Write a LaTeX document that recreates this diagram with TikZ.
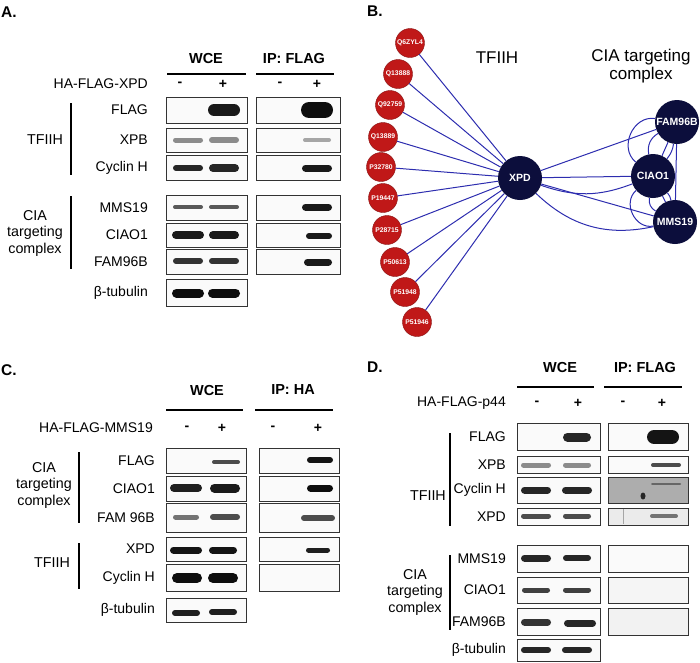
\documentclass[tikz,border=0pt]{standalone}
\usepackage{fontspec}
\setmainfont{Liberation Sans}

\definecolor{hubnavy}{RGB}{12,14,60}
\definecolor{protred}{RGB}{192,24,24}
\definecolor{linkblue}{RGB}{45,45,175}

\tikzset{
  blot/.style={draw=black!80,line width=0.8pt,fill=black!2},
  lbl/.style={anchor=east,inner sep=1pt,font=\fontsize{14}{16.5}\selectfont},
  grp/.style={align=center,inner sep=1pt,font=\fontsize{14.3}{16.5}\selectfont},
  hdr/.style={inner sep=1pt,font=\fontsize{14.5}{16}\selectfont\bfseries},
  sgn/.style={inner sep=1pt,font=\fontsize{14}{16}\selectfont\bfseries},
  panel/.style={anchor=west,inner sep=1pt,font=\fontsize{15.5}{16}\selectfont\bfseries},
  bar/.style={line width=1.8pt},
  prot/.style={draw=protred!70!black,fill=protred,circle,minimum size=29pt,inner sep=0pt,
    text=white,font=\fontsize{6.8}{7}\selectfont\bfseries},
  hub/.style={fill=hubnavy,circle,minimum size=44pt,inner sep=0pt,
    text=white,font=\fontsize{10.5}{11}\selectfont\bfseries},
  link/.style={draw=linkblue,line width=1pt},
  ttl/.style={align=center,inner sep=1pt,font=\fontsize{17}{18}\selectfont}
}

\begin{document}
\begin{tikzpicture}[x=1pt,y=-1pt]
\useasboundingbox (0,0) rectangle (700,662);

% ---------- A ----------
\node[panel] (pA) at (0,12) {A.};
\node[hdr] (aWCE) at (206,59) {WCE};
\node[hdr] (aIP) at (294,59) {IP: FLAG};
\draw[bar] (167,74) -- (246,74);
\draw[bar] (256,74) -- (334,74);
\node[lbl] (aHA) at (149,84) {HA-FLAG-XPD};
\node[sgn] (aS1) at (180,84) {-};
\node[sgn] (aS2) at (223,84) {+};
\node[sgn] (aS3) at (280,84) {-};
\node[sgn] (aS4) at (317,84) {+};
\foreach \name/\ya/\yb [count=\i] in {FLAG/97/123,XPB/128/152,Cyclin H/155/180,MMS19/195/220,CIAO1/223/247,FAM96B/249/274,β-tubulin/279/306}{
  \draw[blot] (166,\ya) rectangle (247,\yb);
  \node[lbl] (aRow\i) at (149,{(\ya+\yb)/2}) {\name};
}
\foreach \ya/\yb in {97/123,128/152,155/180,195/220,223/247,249/274}
  \draw[blot] (256,\ya) rectangle (340,\yb);
\foreach \x/\y/\w/\h/\c in {224/110/32/12/90,317/110/32/16/95,
  188/140/30/5/45,224/140/30/6/45,317/140/28/4/35,
  188/168/30/6/85,224/168/30/8/85,317/168/30/7/90,
  188/207/30/4/65,224/207/30/4/65,317/207/30/7/90,
  188/235/32/8/90,224/235/30/8/90,319/236/26/6/90,
  188/261/30/6/80,224/261/30/6/80,318/262/28/7/90,
  188/293/32/9/95,224/293/32/9/95}
  \draw[line width=\h*1pt,line cap=round,black!\c] ({\x-\w/2+\h/2},\y) -- ({\x+\w/2-\h/2},\y);
\draw[bar] (71,103) -- (71,175);
\draw[bar] (71,196) -- (71,269);
\node[grp] (aTF) at (45,140) {TFIIH};
\node[grp] (aCIA) at (35,233) {CIA\\targeting\\complex};

% ---------- B ----------
\node[panel] (pB) at (366,11) {B.};
\node[ttl] (bTF) at (497,58) {TFIIH};
\node[ttl] (bCIA) at (641,66) {CIA targeting\\complex};
\node[hub] (xpd) at (520,178) {XPD};
\node[hub] (fam96b) at (677,122) {FAM96B};
\node[hub] (ciao1) at (653,176) {CIAO1};
\node[hub] (mms19) at (675,222) {MMS19};
\node[prot] (q6zyl4) at (410,43) {Q6ZYL4};
\node[prot] (q13888) at (398,74) {Q13888};
\node[prot] (q92759) at (390,105) {Q92759};
\node[prot] (q13889) at (383,137) {Q13889};
\node[prot] (p32780) at (381,167) {P32780};
\node[prot] (p19447) at (383,198) {P19447};
\node[prot] (p28715) at (387,230) {P28715};
\node[prot] (p50613) at (395,262) {P50613};
\node[prot] (p51948) at (405,292) {P51948};
\node[prot] (p51946) at (417,322) {P51946};
\foreach \p in {q6zyl4,q13888,q92759,q13889,p32780,p19447,p28715,p50613,p51948,p51946}
  \draw[link] (\p) -- (xpd);
\draw[link] (xpd) -- (fam96b);
\draw[link] (xpd) -- (ciao1);
\draw[link] (xpd) to[bend right=20] (ciao1);
\draw[link] (xpd) -- (mms19);
\draw[link] (xpd) to[bend right=28] (mms19);
\draw[link] (fam96b) to[bend right=75,looseness=1.2] (ciao1);
\draw[link] (fam96b) to[bend right=35] (ciao1);
\draw[link] (fam96b) -- (ciao1);
\draw[link] (fam96b) to[bend left=15] (ciao1);
\draw[link] (ciao1) to[bend right=75,looseness=1.2] (mms19);
\draw[link] (ciao1) to[bend right=35] (mms19);
\draw[link] (ciao1) -- (mms19);
\draw[link] (ciao1) to[bend left=15] (mms19);
\draw[link] (fam96b) -- (mms19);

% ---------- C ----------
\node[panel] (pC) at (0,370) {C.};
\node[hdr] (cWCE) at (207,390) {WCE};
\node[hdr] (cIP) at (293,390) {IP: HA};
\draw[bar] (166,410) -- (243,410);
\draw[bar] (255,410) -- (333,410);
\node[lbl] (cHA) at (154,428) {HA-FLAG-MMS19};
\node[sgn] (cS1) at (187,428) {-};
\node[sgn] (cS2) at (222,428) {+};
\node[sgn] (cS3) at (273,428) {-};
\node[sgn] (cS4) at (318,428) {+};
\foreach \name/\ya/\yb [count=\i] in {FLAG/448/473,CIAO1/476/501,FAM 96B/503/532,XPD/537/561,Cyclin H/564/591,β-tubulin/598/622}{
  \draw[blot] (166,\ya) rectangle (246,\yb);
  \node[lbl] (cRow\i) at (156,{(\ya+\yb)/2}) {\name};
}
\foreach \ya/\yb in {448/473,476/501,503/532,537/561,564/591}
  \draw[blot] (259,\ya) rectangle (339,\yb);
\foreach \x/\y/\w/\h/\c in {226/462/28/4/70,320/460/26/6/92,
  186/488/32/8/88,225/488/30/9/90,320/488/26/7/95,
  186/517/26/5/55,225/517/30/6/70,318/518/34/6/70,
  186/550/32/7/92,223/550/28/7/92,318/550/24/5/88,
  187/578/30/10/95,223/578/30/10/95,
  186/613/28/6/88,223/612/28/6/88}
  \draw[line width=\h*1pt,line cap=round,black!\c] ({\x-\w/2+\h/2},\y) -- ({\x+\w/2-\h/2},\y);
\draw[bar] (79,452) -- (79,523);
\draw[bar] (79,543) -- (79,589);
\node[grp] (cCIA) at (44,485) {CIA\\targeting\\complex};
\node[grp] (cTF) at (52,563) {TFIIH};

% ---------- D ----------
\node[panel] (pD) at (366,367) {D.};
\node[hdr] (dWCE) at (560,367) {WCE};
\node[hdr] (dIP) at (645,367) {IP: FLAG};
\draw[bar] (517,387) -- (594,387);
\draw[bar] (604,387) -- (682,387);
\node[lbl] (dHA) at (507,403) {HA-FLAG-p44};
\node[sgn] (dS1) at (537,403) {-};
\node[sgn] (dS2) at (578,403) {+};
\node[sgn] (dS3) at (623,403) {-};
\node[sgn] (dS4) at (662,403) {+};
\foreach \name/\ya/\yb [count=\i] in {FLAG/423/450,XPB/456/473,Cyclin H/477/503,XPD/508/525,MMS19/545/572,CIAO1/577/603,FAM96B/608/635,β-tubulin/639/661}{
  \draw[blot] (517,\ya) rectangle (600,\yb);
  \node[lbl] (dRow\i) at (507,{(\ya+\yb)/2}) {\name};
}
\foreach \ya/\yb/\g in {423/450/2,456/473/2,477/503/32,508/525/8,545/572/2,577/603/4,608/635/5}
  \draw[blot,fill=black!\g] (608,\ya) rectangle (688,\yb);
\draw[black!35,line width=0.8pt] (623,509) -- (623,524);
\fill[black!85] (643,496) ellipse [x radius=2.5pt,y radius=3.5pt];
\foreach \x/\y/\w/\h/\c in {577/437/28/9/85,663/437/32/14/92,
  536/465/30/5/45,577/465/28/5/45,666/465/30/4/70,
  536/490/30/7/85,577/490/30/7/85,666/484/30/2/60,
  536/516/30/5/70,577/516/28/5/70,664/516/28/4/55,
  536/558/30/7/85,577/558/28/6/85,
  536/590/28/5/75,577/590/28/5/75,
  536/622/30/7/80,580/623/32/7/85,
  536/650/30/6/85,577/650/30/6/85}
  \draw[line width=\h*1pt,line cap=round,black!\c] ({\x-\w/2+\h/2},\y) -- ({\x+\w/2-\h/2},\y);
\draw[bar] (450,433) -- (450,526);
\draw[bar] (450,555) -- (450,630);
\node[grp,anchor=east] (dTF) at (447,496) {TFIIH};
\node[grp] (dCIA) at (415,592) {CIA\\targeting\\complex};
\end{tikzpicture}
\end{document}
